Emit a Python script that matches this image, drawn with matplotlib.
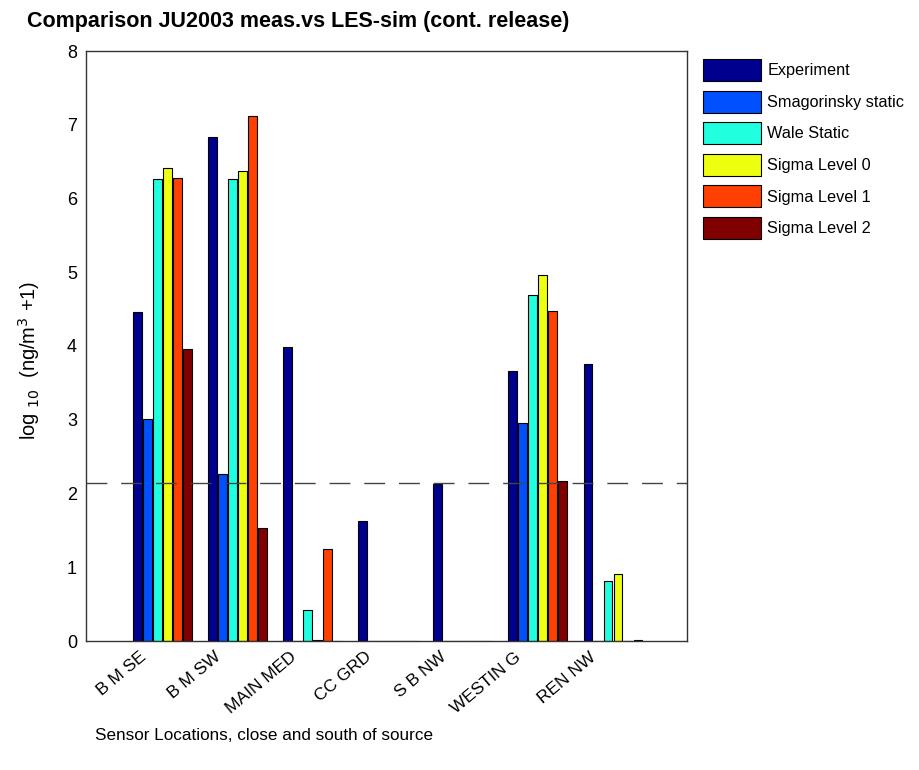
import numpy as np
import matplotlib.pyplot as plt

plt.rcParams['font.family'] = ['Liberation Sans', 'DejaVu Sans']

# sensor locations and series
locations = ["B M SE", "B M SW", "MAIN MED", "CC GRD", "S B NW", "WESTIN G", "REN NW"]
series_names = ["Experiment", "Smagorinsky static", "Wale Static",
                "Sigma Level 0", "Sigma Level 1", "Sigma Level 2"]
experiment = [4.46, 6.84, 3.98, 1.63, 2.13, 3.66, 3.76]
smag_static = [3.01, 2.26, 0.0, 0.0, 0.0, 2.96, 0.0]
wale_static = [6.26, 6.26, 0.42, 0.0, 0.0, 4.69, 0.81]
sigma0 = [6.41, 6.37, 0.01, 0.0, 0.0, 4.96, 0.91]
sigma1 = [6.28, 7.12, 1.25, 0.0, 0.0, 4.47, 0.0]
sigma2 = [3.96, 1.53, 0.0, 0.0, 0.0, 2.17, 0.02]
threshold = 2.14

colors = ["#00008f", "#0050ff", "#20ffdf", "#efff10", "#ff4000", "#800000"]

fig = plt.figure(figsize=(9.19, 7.70), dpi=100)
ax = fig.add_axes([86/919, 1-641/770, (687-86)/919, (641-51)/770])

data = [experiment, smag_static, wale_static, sigma0, sigma1, sigma2]
x = np.arange(1, len(locations) + 1)
pitch = 0.1333
w = 0.112
for k, (vals, c, name) in enumerate(zip(data, colors, series_names)):
    ax.bar(x + (k - 2.5) * pitch, vals, width=w, color=c, edgecolor="black",
           linewidth=0.8, label=name)

ax.axhline(threshold, color="#444444", linestyle=(0, (15, 10)), linewidth=1.0)

ax.set_xlim(-0.02, 7.99)
ax.set_ylim(0, 8)
ax.set_yticks(range(0, 9))
ax.set_xticks(x - 0.31)
ax.set_xticklabels(locations, rotation=40, ha="right", rotation_mode="anchor",
                   fontsize=12.5)
ax.tick_params(axis="y", length=0, labelsize=13, pad=6.5)
ax.tick_params(axis="x", length=0, pad=6)
for s in ax.spines.values():
    s.set_color("#333333")
    s.set_linewidth(1.0)

ax.set_ylabel("log $_{10}$  (ng/m$^{3}$ +1)", fontsize=14.5)
ax.yaxis.set_label_coords(-0.073, 0.476)

fig.text(27/919, 1-27/770, "Comparison JU2003 meas.vs LES-sim (cont. release)",
         fontsize=15.5, fontweight="bold", ha="left", va="baseline")
fig.text(95/919, 1-736/770, "Sensor Locations, close and south of source",
         fontsize=12.3, ha="left", va="center")

fig.legend(loc="upper left", bbox_to_anchor=(703/919, 1-59/770), frameon=False,
           fontsize=11.7, handlelength=3.55, handleheight=1.72, labelspacing=0.58,
           handletextpad=0.4, borderaxespad=0, borderpad=0)

fig.savefig("out.png", dpi=100)
